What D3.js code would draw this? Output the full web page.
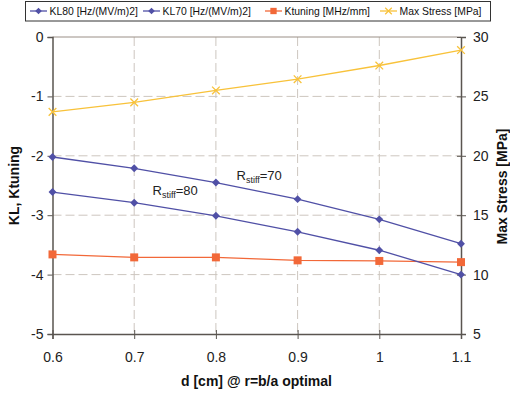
<!DOCTYPE html>
<html><head><meta charset="utf-8">
<script src="https://cdn.jsdelivr.net/npm/d3@7"></script>
<style>body{margin:0;background:#fff}svg{display:block;font-family:"Liberation Sans",Arial,sans-serif}</style>
</head><body><svg id="c" width="510" height="397"></svg>
<script>
const dValues = [0.6, 0.7, 0.8, 0.9, 1.0, 1.1];
const kl80 = [-2.61, -2.79, -3.01, -3.28, -3.59, -4.00];
const kl70 = [-2.02, -2.21, -2.45, -2.73, -3.07, -3.48];
const ktuning = [-3.66, -3.71, -3.71, -3.76, -3.77, -3.79];
const maxStress = [23.7, 24.5, 25.5, 26.45, 27.6, 28.9];
const xTicks = [0.6, 0.7, 0.8, 0.9, 1, 1.1];
const yLeftTicks = [0, -1, -2, -3, -4, -5];
const yRightTicks = [5, 10, 15, 20, 25, 30];
const seriesNames = ["KL80 [Hz/(MV/m)2]", "KL70 [Hz/(MV/m)2]", "Ktuning [MHz/mm]", "Max Stress [MPa]"];

const svg = d3.select("#c");
const L = 52.5, R = 461, T = 37, B = 334;
const x = d3.scaleLinear().domain([0.6, 1.1]).range([L, R]);
const yL = d3.scaleLinear().domain([-5, 0]).range([B, T]);
const yR = d3.scaleLinear().domain([5, 30]).range([B, T]);

const gridC = "#cdc6bf", axisC = "#5a5550";
svg.append("g").selectAll("line").data([-1, -2, -3, -4]).join("line")
  .attr("x1", L).attr("x2", R).attr("y1", d => yL(d)).attr("y2", d => yL(d))
  .attr("stroke", gridC).attr("stroke-width", 1).attr("stroke-dasharray", "9,4");
svg.append("g").selectAll("line").data([0.7, 0.8, 0.9, 1.0]).join("line")
  .attr("y1", T).attr("y2", B).attr("x1", d => x(d)).attr("x2", d => x(d))
  .attr("stroke", gridC).attr("stroke-width", 1).attr("stroke-dasharray", "9,4");
svg.append("line").attr("x1", L).attr("x2", R).attr("y1", T).attr("y2", T).attr("stroke", "#9a8f86").attr("stroke-width", 1);

const fs = "14px";
const fmtInt = d => String(d);
const axL = svg.append("g").attr("transform", `translate(${L},0)`)
  .call(d3.axisLeft(yL).tickValues(yLeftTicks).tickSize(5).tickPadding(4).tickFormat(fmtInt));
const axR = svg.append("g").attr("transform", `translate(${R},0)`)
  .call(d3.axisRight(yR).tickValues(yRightTicks).tickSize(5).tickPadding(7).tickFormat(fmtInt));
const axB = svg.append("g").attr("transform", `translate(0,${B})`)
  .call(d3.axisBottom(x).tickValues(xTicks).tickSize(5).tickPadding(13).tickFormat(d => String(+d.toFixed(1))));
[axL, axR, axB].forEach(a => {
  a.select(".domain").attr("stroke", axisC).attr("stroke-width", 1.5);
  a.selectAll(".tick line").attr("stroke", axisC).attr("stroke-width", 1);
  a.selectAll(".tick text").attr("fill", "#222").style("font-size", fs);
});
axR.selectAll(".tick line").attr("x1", -4);
axB.selectAll(".tick line").attr("y1", -4);

const mk = (arr, sc) => d3.line().x((d, i) => x(dValues[i])).y(d => sc(d))(arr);
const blue = "#5050a6", orange = "#f26838", yellow = "#f8c23a";
svg.append("path").attr("d", mk(ktuning, yL)).attr("fill", "none").attr("stroke", orange).attr("stroke-width", 1.3);
svg.append("path").attr("d", mk(kl80, yL)).attr("fill", "none").attr("stroke", blue).attr("stroke-width", 1.3);
svg.append("path").attr("d", mk(kl70, yL)).attr("fill", "none").attr("stroke", blue).attr("stroke-width", 1.3);
svg.append("path").attr("d", mk(maxStress, yR)).attr("fill", "none").attr("stroke", yellow).attr("stroke-width", 1.3);

const diamond = d3.symbol().type(d3.symbolDiamond2).size(40);
const square = d3.symbol().type(d3.symbolSquare).size(64);
const cross = d3.symbol().type(d3.symbolX).size(40);
[kl80, kl70].forEach(arr => {
  svg.append("g").selectAll("path").data(arr).join("path")
    .attr("d", diamond).attr("transform", (d, i) => `translate(${x(dValues[i])},${yL(d)})`).attr("fill", blue);
});
svg.append("g").selectAll("path").data(ktuning).join("path")
  .attr("d", square).attr("transform", (d, i) => `translate(${x(dValues[i])},${yL(d)})`).attr("fill", orange);
svg.append("g").selectAll("path").data(maxStress).join("path")
  .attr("d", cross).attr("transform", (d, i) => `translate(${x(dValues[i])},${yR(d)})`).attr("fill", "none").attr("stroke", yellow).attr("stroke-width", 1.3);

function ann(tx, ty, val) {
  const t = svg.append("text").attr("x", tx).attr("y", ty).attr("fill", "#222").style("font-size", "13px");
  t.append("tspan").text("R");
  t.append("tspan").text("stiff").style("font-size", "9px").attr("dy", 3);
  t.append("tspan").text("=" + val).attr("dy", -3);
}
ann(236.5, 180, "70");
ann(152.5, 195, "80");

svg.append("text").attr("transform", `translate(19,${(T + B) / 2}) rotate(-90)`).attr("text-anchor", "middle")
  .style("font-size", "14px").style("font-weight", "bold").attr("fill", "#111").text("KL, Ktuning");
svg.append("text").attr("transform", `translate(507,${(T + B) / 2 + 1}) rotate(-90)`).attr("text-anchor", "middle")
  .style("font-size", "14px").style("font-weight", "bold").attr("fill", "#111").text("Max Stress [MPa]");
svg.append("text").attr("x", 256.5).attr("y", 386).attr("text-anchor", "middle")
  .style("font-size", "14px").style("font-weight", "bold").attr("fill", "#111").text("d [cm] @ r=b/a optimal");

const lg = svg.append("g");
lg.append("rect").attr("x", 25.5).attr("y", 1.5).attr("width", 465).attr("height", 19.5)
  .attr("fill", "#fff").attr("stroke", "#333").attr("stroke-width", 1);
const lx = [30, 143, 265, 380];
const colors = [blue, blue, orange, yellow];
seriesNames.forEach((n, i) => {
  const g = lg.append("g").attr("transform", `translate(${lx[i]},11)`);
  g.append("line").attr("x1", 0).attr("x2", 17).attr("stroke", colors[i]).attr("stroke-width", 1.3);
  const s = g.append("path").attr("transform", "translate(8.5,0)")
    .attr("d", i === 2 ? d3.symbol().type(d3.symbolSquare).size(40)() : i === 3 ? d3.symbol().type(d3.symbolX).size(30)() : d3.symbol().type(d3.symbolDiamond2).size(28)());
  if (i === 3) s.attr("fill", "none").attr("stroke", colors[i]).attr("stroke-width", 1.2); else s.attr("fill", colors[i]);
  g.append("text").attr("x", 19.5).attr("y", 4).style("font-size", "10.4px").attr("fill", "#111").text(n);
});
</script></body></html>
